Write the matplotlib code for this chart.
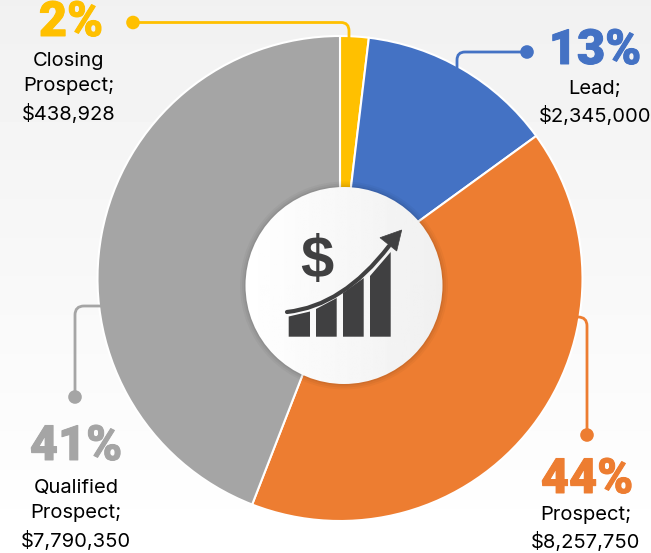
import numpy as np
import matplotlib
matplotlib.use("Agg")
import matplotlib.pyplot as plt
import matplotlib.patheffects as pe
from matplotlib.path import Path
from matplotlib.patches import PathPatch, Circle, Polygon

labels = ["Closing\nProspect;\n$438,928", "Lead;\n$2,345,000", "Prospect;\n$8,257,750", "Qualified\nProspect;\n$7,790,350"]
percents = ["2%", "13%", "44%", "41%"]
# slice sizes as drawn in the picture (they differ a bit from the printed labels)
shares = [1.9, 13.1, 40.9, 44.1]
colors = ["#FFC000", "#4472C4", "#ED7D31", "#A5A5A5"]

H = 553
def py(y):
    return H - y

fig = plt.figure(figsize=(6.51, 5.53), dpi=100)
ax = fig.add_axes([0, 0, 1, 1])

ax.pie(shares, colors=colors, startangle=90, counterclock=False, center=(340, py(278.5)), radius=242.5,
       wedgeprops=dict(edgecolor="white", linewidth=1.5), frame=True)
ax.axis("off")

# background
grad = np.linspace(0.945, 1.0, 100).reshape(-1, 1)
ax.imshow(grad, extent=(0, 651, 0, H), aspect="auto", cmap="gray", vmin=0, vmax=1, zorder=0)

# hub
for r, a in [(104, 0.03), (102, 0.04), (100, 0.06)]:
    ax.add_patch(Circle((344, py(285.5)), r, fc="black", ec="none", alpha=a, zorder=3))
hub = Circle((344, py(285.5)), 98.5, fc="none", ec="none", zorder=4)
ax.add_patch(hub)
g = np.linspace(1, 0.94, 100).reshape(1, -1)
im = ax.imshow(g, extent=(245, 443, py(384), py(187)), aspect="auto", cmap="gray", vmin=0, vmax=1, zorder=4)
im.set_clip_path(hub)
ax.set_xlim(0, 651)
ax.set_ylim(0, H)
ax.set_aspect("auto")

# icon
dark = "#404041"
ax.text(317, py(263), "$", fontsize=43, family="Liberation Sans", fontweight="bold", color=dark, ha="center", va="center", zorder=5)
tops = [(288.7, 316.5, 310, 311.5), (316, 309, 336.7, 298), (343, 293, 363.7, 278), (370, 276, 390.7, 252)]
for x0, y0, x1, y1 in tops:
    ax.add_patch(Polygon([(x0, py(336.7)), (x0, py(y0)), (x1, py(y1)), (x1, py(336.7))], fc=dark, ec="none", zorder=5))
curve = Path([(287, py(312)), (343, py(306)), (389, py(246))], [Path.MOVETO, Path.CURVE3, Path.CURVE3])
ax.add_patch(PathPatch(curve, fc="none", ec=dark, lw=3.0, capstyle="round", zorder=5))
ax.add_patch(Polygon([(401.7, py(230)), (380, py(237.7)), (396.7, py(251))], fc=dark, ec=dark, lw=0.5, zorder=5))

# leaders
def leader(points, color, dot):
    codes = [Path.MOVETO, Path.LINETO, Path.CURVE3, Path.CURVE3, Path.LINETO]
    pts = [(x, py(y)) for x, y in points]
    ax.add_patch(PathPatch(Path(pts, codes), fc="none", ec=color, lw=2, zorder=2))
    ax.add_patch(Circle((dot[0], py(dot[1])), 6.8, fc=color, ec="none", zorder=6))

leader([(133, 22.5), (341, 22.5), (349, 22.5), (349, 31), (349, 38)], colors[0], (133, 22.5))
leader([(527, 52), (465, 52), (457, 52), (457, 60), (457, 68)], colors[1], (527, 52))
leader([(587, 435), (587, 326), (587, 317), (578, 317), (576, 317)], colors[2], (587, 435))
leader([(75, 397), (75, 315), (75, 306), (84, 306), (102, 306)], colors[3], (75, 397))

# text
pct_pos = [(71, 23), (595, 51), (587, 480), (76, 447)]
lab_pos = [(69, 88), (595, 103), (586, 529), (76, 515)]
for i in range(4):
    t = ax.text(pct_pos[i][0], py(pct_pos[i][1]), percents[i], color=colors[i], fontsize=35, family=["Roboto", "DejaVu Sans"],
                fontweight="black", ha="center", va="center", zorder=7)
    t.set_path_effects([pe.Stroke(linewidth=0.7, foreground=colors[i], joinstyle="round"), pe.Normal()])
    ax.text(lab_pos[i][0], py(lab_pos[i][1]), labels[i], color="black", fontsize=14.5, family="Inter",
            ha="center", va="center", linespacing=1.55, zorder=7)

fig.savefig("out.png", dpi=100)
